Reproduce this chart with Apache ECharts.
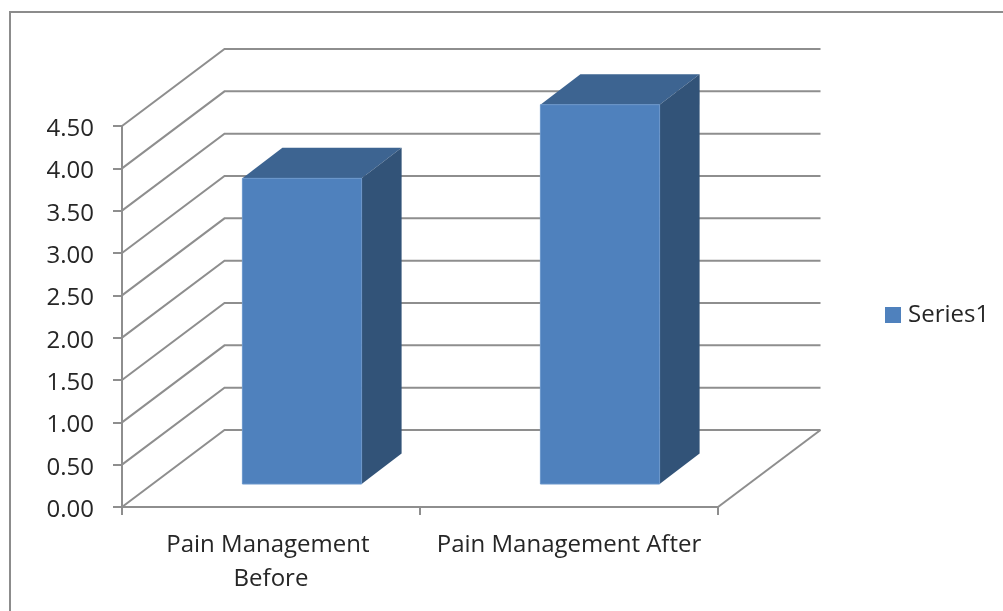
<!DOCTYPE html>
<html>
<head>
<meta charset="utf-8">
<style>html,body{margin:0;padding:0;background:#fff}#chart{width:1003px;height:611px}</style>
<script src="https://cdn.jsdelivr.net/npm/echarts@6/dist/echarts.min.js"></script>
</head>
<body>
<div id="chart"></div>
<script>
// Pain management scores, before and after
const categories = ['Pain Management Before', 'Pain Management After'];
const seriesName = 'Series1';
const seriesValues = [3.61, 4.48];
const yTicks = [0, 0.5, 1, 1.5, 2, 2.5, 3, 3.5, 4, 4.5];

// Oblique projection of the floor and the columns, in pixels
const wallDepth = [102.5, -77];
const barOffset = [31, -23];
const barDepth = [40, -30.5];
const barShare = 0.4;

const gridColor = '#8e8e8e';
const textColor = '#262626';
const fontFamily = 'Open Sans';
const fontSize = 24;

const chart = echarts.init(document.getElementById('chart'), null, { renderer: 'canvas' });

function renderWall(params, api) {
  const y = api.coord([0, api.value(1)])[1];
  const left = params.coordSys.x;
  const right = left + params.coordSys.width;
  const children = [{
    type: 'polyline',
    shape: { points: [[left, y], [left + wallDepth[0], y + wallDepth[1]], [right + wallDepth[0], y + wallDepth[1]]] },
    style: { stroke: gridColor, lineWidth: 2, fill: null }
  }];
  if (api.value(1) === 0) {
    children.push({
      type: 'line',
      shape: { x1: right, y1: y, x2: right + wallDepth[0], y2: y + wallDepth[1] },
      style: { stroke: gridColor, lineWidth: 2 }
    });
  }
  return { type: 'group', children };
}

function renderColumn(params, api) {
  const base = api.coord([api.value(0), 0]);
  const top = api.coord([api.value(0), api.value(1)]);
  const w = api.size([1, 0])[0] * barShare;
  const x0 = base[0] - w / 2 + barOffset[0];
  const x1 = x0 + w;
  const yB = base[1] + barOffset[1];
  const yT = top[1] + barOffset[1];
  const dx = barDepth[0], dy = barDepth[1];
  return {
    type: 'group',
    children: [
      { type: 'polygon', shape: { points: [[x0, yT], [x1, yT], [x1 + dx, yT + dy], [x0 + dx, yT + dy]] }, style: { fill: '#3d6491' } },
      { type: 'polygon', shape: { points: [[x1, yT], [x1 + dx, yT + dy], [x1 + dx, yB + dy], [x1, yB]] }, style: { fill: '#325378' } },
      { type: 'rect', shape: { x: x0, y: yT, width: w, height: yB - yT }, style: { fill: '#4f81bd', stroke: '#6a96cb', lineWidth: 1 } }
    ]
  };
}

chart.setOption({
  animation: false,
  backgroundColor: '#ffffff',
  textStyle: { fontFamily },
  grid: { left: 122, right: 285, top: 126, bottom: 104 },
  legend: {
    show: true,
    data: [{ name: seriesName, icon: 'rect', itemStyle: { color: '#4f81bd' } }],
    left: 880,
    top: 298,
    itemWidth: 16,
    itemHeight: 16,
    itemGap: 0,
    selectedMode: false,
    textStyle: { color: textColor, fontSize, fontFamily, padding: [0, 0, 0, 2] }
  },
  xAxis: {
    type: 'category',
    data: categories,
    axisLine: { lineStyle: { color: gridColor, width: 2 } },
    axisTick: { show: true, length: 8, lineStyle: { color: gridColor, width: 2 } },
    axisLabel: {
      interval: 0, color: textColor, fontSize, fontFamily,
      margin: 21, width: 272, overflow: 'break', lineHeight: 34, align: 'center'
    },
    splitLine: { show: false }
  },
  yAxis: {
    type: 'value',
    min: 0,
    max: 4.5,
    interval: 0.5,
    axisLine: { show: true, lineStyle: { color: gridColor, width: 2 } },
    axisTick: { show: true, length: 9, lineStyle: { color: gridColor, width: 2 } },
    axisLabel: {
      color: textColor, fontSize, fontFamily, margin: 28,
      formatter: v => '{n|' + v.toFixed(2) + '}',
      rich: { n: { color: textColor, fontSize, fontFamily, padding: [6, 0, 0, 0] } }
    },
    splitLine: { show: false }
  },
  graphic: [{
    type: 'polyline',
    silent: true,
    shape: { points: [[10, 611], [10, 12], [1003, 12]] },
    style: { stroke: '#8c8c8c', lineWidth: 2, fill: null }
  }],
  series: [
    {
      type: 'custom',
      name: 'walls',
      silent: true,
      z: 1,
      clip: false,
      renderItem: renderWall,
      encode: { x: 0, y: 1 },
      data: yTicks.map(v => [0, v])
    },
    {
      type: 'custom',
      name: seriesName,
      z: 3,
      clip: false,
      renderItem: renderColumn,
      itemStyle: { color: '#4f81bd' },
      encode: { x: 0, y: 1 },
      data: seriesValues.map((v, i) => [i, v])
    }
  ]
});
</script>
</body>
</html>
